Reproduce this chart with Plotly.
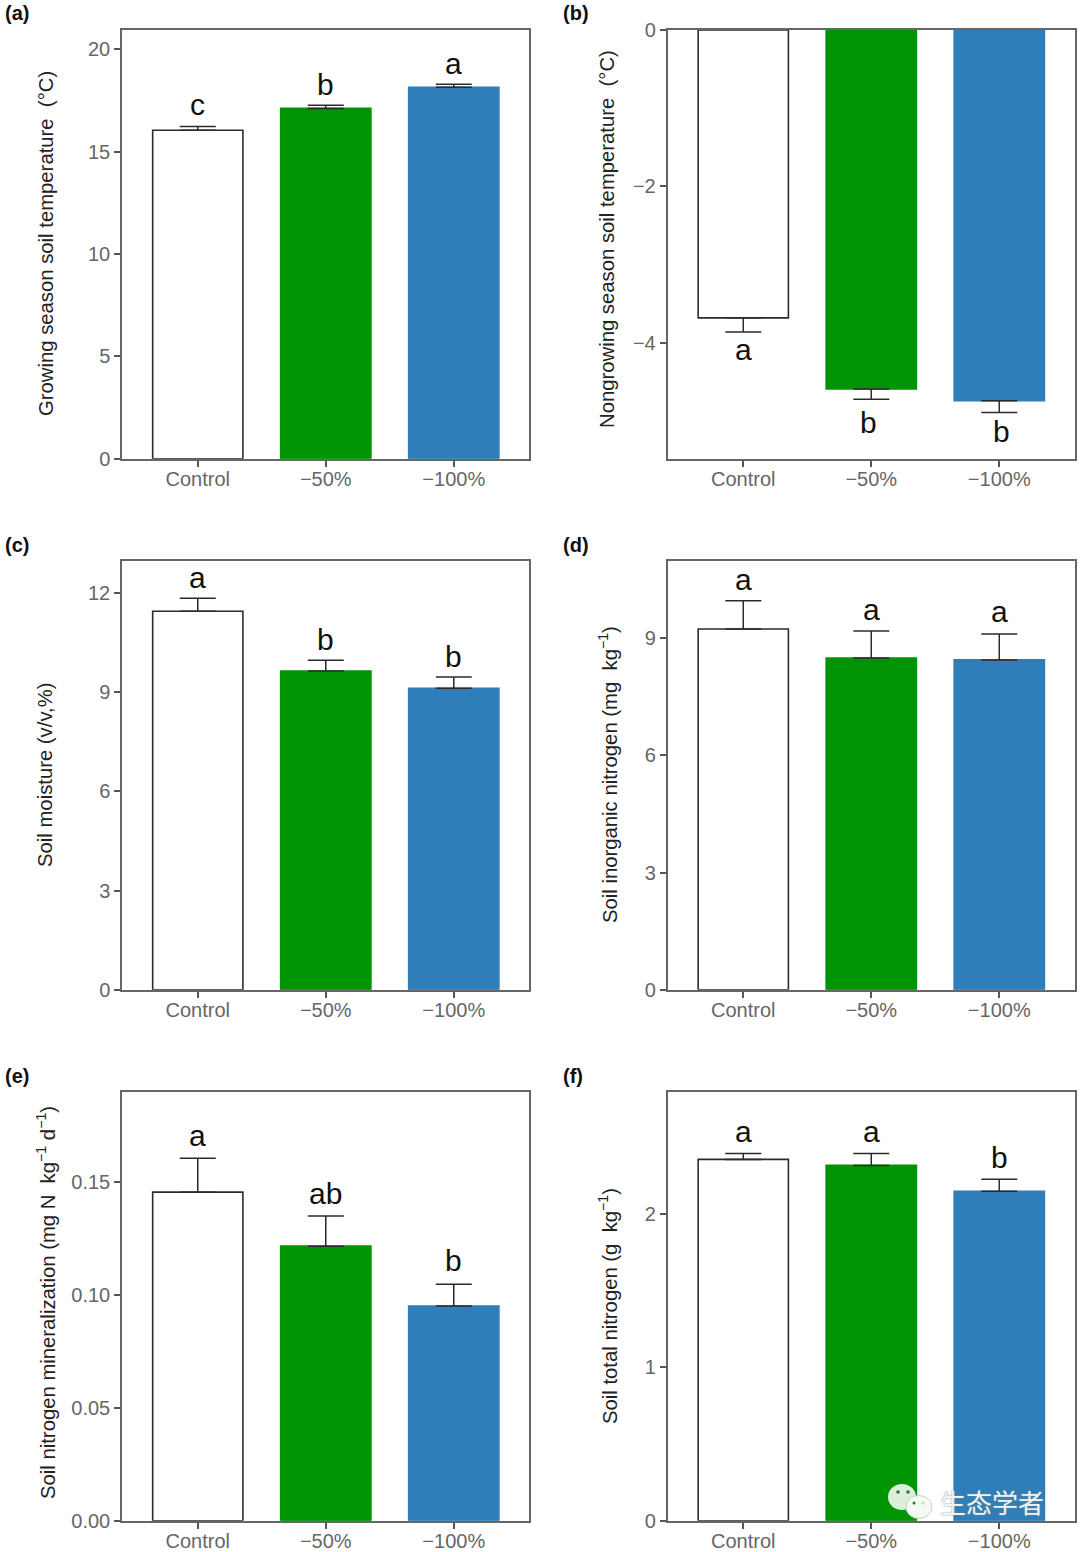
import plotly.graph_objects as go

categories = ["Control", "\u221250%", "\u2212100%"]

values_a = [16.05, 17.12, 18.15]
caps_a = [16.24, 17.27, 18.30]
letters_a = ["c", "b", "a"]
letter_y_a = [17.30, 18.30, 19.30]
values_b = [-3.68, -4.59, -4.74]
caps_b = [-3.86, -4.72, -4.89]
letters_b = ["a", "b", "b"]
letter_y_b = [-4.09, -5.02, -5.13]
values_c = [11.45, 9.64, 9.12]
caps_c = [11.84, 9.97, 9.46]
letters_c = ["a", "b", "b"]
letter_y_c = [12.48, 10.59, 10.09]
values_d = [9.23, 8.49, 8.44]
caps_d = [9.95, 9.18, 9.10]
letters_d = ["a", "a", "a"]
letter_y_d = [10.5, 9.73, 9.68]
values_e = [0.1454, 0.1215, 0.0950]
caps_e = [0.1604, 0.1348, 0.1047]
letters_e = ["a", "ab", "b"]
letter_y_e = [0.1705, 0.145, 0.115]
values_f = [2.354, 2.315, 2.146]
caps_f = [2.393, 2.393, 2.224]
letters_f = ["a", "a", "b"]
letter_y_f = [2.533, 2.533, 2.367]
letter_dx_b = [0, -3, 2]

ticks_a = [0, 5, 10, 15, 20]
ticks_b = [0, -2, -4]
ticks_c = [0, 3, 6, 9, 12]
ticks_d = [0, 3, 6, 9]
ticks_e = [0, 0.05, 0.10, 0.15]
ticks_f = [0, 1, 2]
ticklabels_b = ["0", "\u22122", "\u22124"]
ticklabels_e = ["0.00", "0.05", "0.10", "0.15"]

ranges = {"a": [0, 20.95], "b": [-5.482, 0], "c": [0, 12.97], "d": [0, 10.97], "e": [0, 0.1897], "f": [0, 2.793]}

title_a = "Growing season soil temperature\u00a0\u00a0(\u00b0C)"
title_b = "Nongrowing season soil temperature\u00a0\u00a0(\u00b0C)"
title_c = "Soil moisture (v/v,%)"
title_d = "Soil inorganic nitrogen (mg\u00a0\u00a0kg<sup>\u22121</sup>)"
title_e = "Soil nitrogen mineralization (mg N\u00a0\u00a0kg<sup>\u22121</sup> d<sup>\u22121</sup>)"
title_f = "Soil total nitrogen (g\u00a0\u00a0kg<sup>\u22121</sup>)"

FILL = ["#ffffff", "#009405", "#2f7eb9"]
EDGE = ["#2b2b2b", "#009405", "#2f7eb9"]
W, H = 1080, 1552
FONT = "Liberation Sans, Arial, sans-serif"

panels = [
    ("a", values_a, caps_a, letters_a, letter_y_a, ticks_a, None, title_a, 122, 529.3, 30, 458.8, 46, 244, 3, 13),
    ("b", values_b, caps_b, letters_b, letter_y_b, ticks_b, ticklabels_b, title_b, 667.5, 1074.8, 30, 458.8, 607, 239, 561, 13),
    ("c", values_c, caps_c, letters_c, letter_y_c, ticks_c, None, title_c, 122, 529.3, 561, 989.8, 45, 775, 3, 545),
    ("d", values_d, caps_d, letters_d, letter_y_d, ticks_d, None, title_d, 667.5, 1074.8, 561, 989.8, 608, 775, 561, 545),
    ("e", values_e, caps_e, letters_e, letter_y_e, ticks_e, ticklabels_e, title_e, 122, 529.3, 1092, 1520.8, 46, 1303, 3, 1076),
    ("f", values_f, caps_f, letters_f, letter_y_f, ticks_f, None, title_f, 667.5, 1074.8, 1092, 1520.8, 608, 1306, 561, 1076),
]

fig = go.Figure()
annotations = []
layout = {}
for i, (name, vals, caps, letters, ly, ticks, tlabels, title, x0, x1, y0, y1, tx, ty, lx, lyy) in enumerate(panels, 1):
    xa = "xaxis" if i == 1 else f"xaxis{i}"
    ya = "yaxis" if i == 1 else f"yaxis{i}"
    xr = "x" if i == 1 else f"x{i}"
    yr = "y" if i == 1 else f"y{i}"
    up = [max(c - v, 0) for v, c in zip(vals, caps)]
    down = [max(v - c, 0) for v, c in zip(vals, caps)]
    fig.add_trace(go.Bar(
        x=categories, y=vals, xaxis=xr, yaxis=yr, width=0.705, showlegend=False,
        marker=dict(color=FILL, line=dict(color=EDGE, width=1.6)),
        error_y=dict(type="data", symmetric=False, array=up, arrayminus=down,
                     color="#2b2b2b", thickness=1.5, width=18),
    ))
    common = dict(showline=True, mirror=True, linecolor="#666666", linewidth=1.5,
                  ticks="outside", ticklen=6, tickwidth=1.5, tickcolor="#555555",
                  showgrid=False, zeroline=False,
                  tickfont=dict(family=FONT, size=20, color="#666666"))
    layout[xa] = dict(common, domain=[x0 / W, x1 / W], anchor=yr, range=[-0.592, 2.59],
                      type="category", tickmode="array", tickvals=categories, ticktext=categories,
                      ticklabelstandoff=-5)
    layout[ya] = dict(common, domain=[1 - y1 / H, 1 - y0 / H], anchor=xr, range=ranges[name],
                      tickmode="array", tickvals=ticks,
                      ticktext=tlabels if tlabels else [str(t) for t in ticks])
    shifts = letter_dx_b if name == "b" else [0, 0, 0]
    for cat, txt, yv, dx in zip(categories, letters, ly, shifts):
        annotations.append(dict(x=cat, y=yv, xref=xr, yref=yr, text=txt, showarrow=False,
                                xanchor="center", yanchor="middle", xshift=dx,
                                font=dict(family=FONT, size=30, color="#111111")))
    annotations.append(dict(x=tx / W, y=1 - ty / H, xref="paper", yref="paper", text=title,
                            textangle=-90, showarrow=False, xanchor="center", yanchor="middle",
                            font=dict(family=FONT, size=20.3, color="#222222")))
    annotations.append(dict(x=lx / W, y=1 - lyy / H, xref="paper", yref="paper",
                            text=f"<b>({name})</b>", showarrow=False, xanchor="left", yanchor="middle",
                            font=dict(family=FONT, size=20, color="#111111")))

# watermark
annotations.append(dict(x=938 / W, y=1 - 1501 / H, xref="paper", yref="paper", text="\u751f\u6001\u5b66\u8005",
                        showarrow=False, xanchor="left", yanchor="middle",
                        font=dict(family="Noto Sans CJK SC", size=26, color="#eef3f5",
                                  shadow="0px 0px 2px #888888")))


def circ(cx, cy, rx, ry, fill, line=None):
    return dict(type="circle", xref="paper", yref="paper", layer="above",
                x0=(cx - rx) / W, x1=(cx + rx) / W, y0=1 - (cy + ry) / H, y1=1 - (cy - ry) / H,
                fillcolor=fill, line=dict(color=line or fill, width=1 if line else 0))


shapes = [
    circ(902, 1497, 14, 13, "#dcefd8"),
    circ(919, 1507, 13, 11.5, "#f4f9f2", "#c9d6c6"),
    circ(898, 1492, 1.8, 1.8, "#3d6b45"),
    circ(908, 1492, 1.8, 1.8, "#3d6b45"),
    circ(914, 1503, 1.5, 1.5, "#3d6b45"),
    circ(923, 1503, 1.5, 1.5, "#c9d6c6"),
]

fig.update_layout(width=W, height=H, margin=dict(l=0, r=0, t=0, b=0, autoexpand=False),
                  paper_bgcolor="white", plot_bgcolor="white", annotations=annotations,
                  shapes=shapes, bargap=0.3, **layout)
fig.write_html("out.html", config={"displayModeBar": False},
               post_script="document.body.style.margin='0';document.body.style.overflow='hidden';")
